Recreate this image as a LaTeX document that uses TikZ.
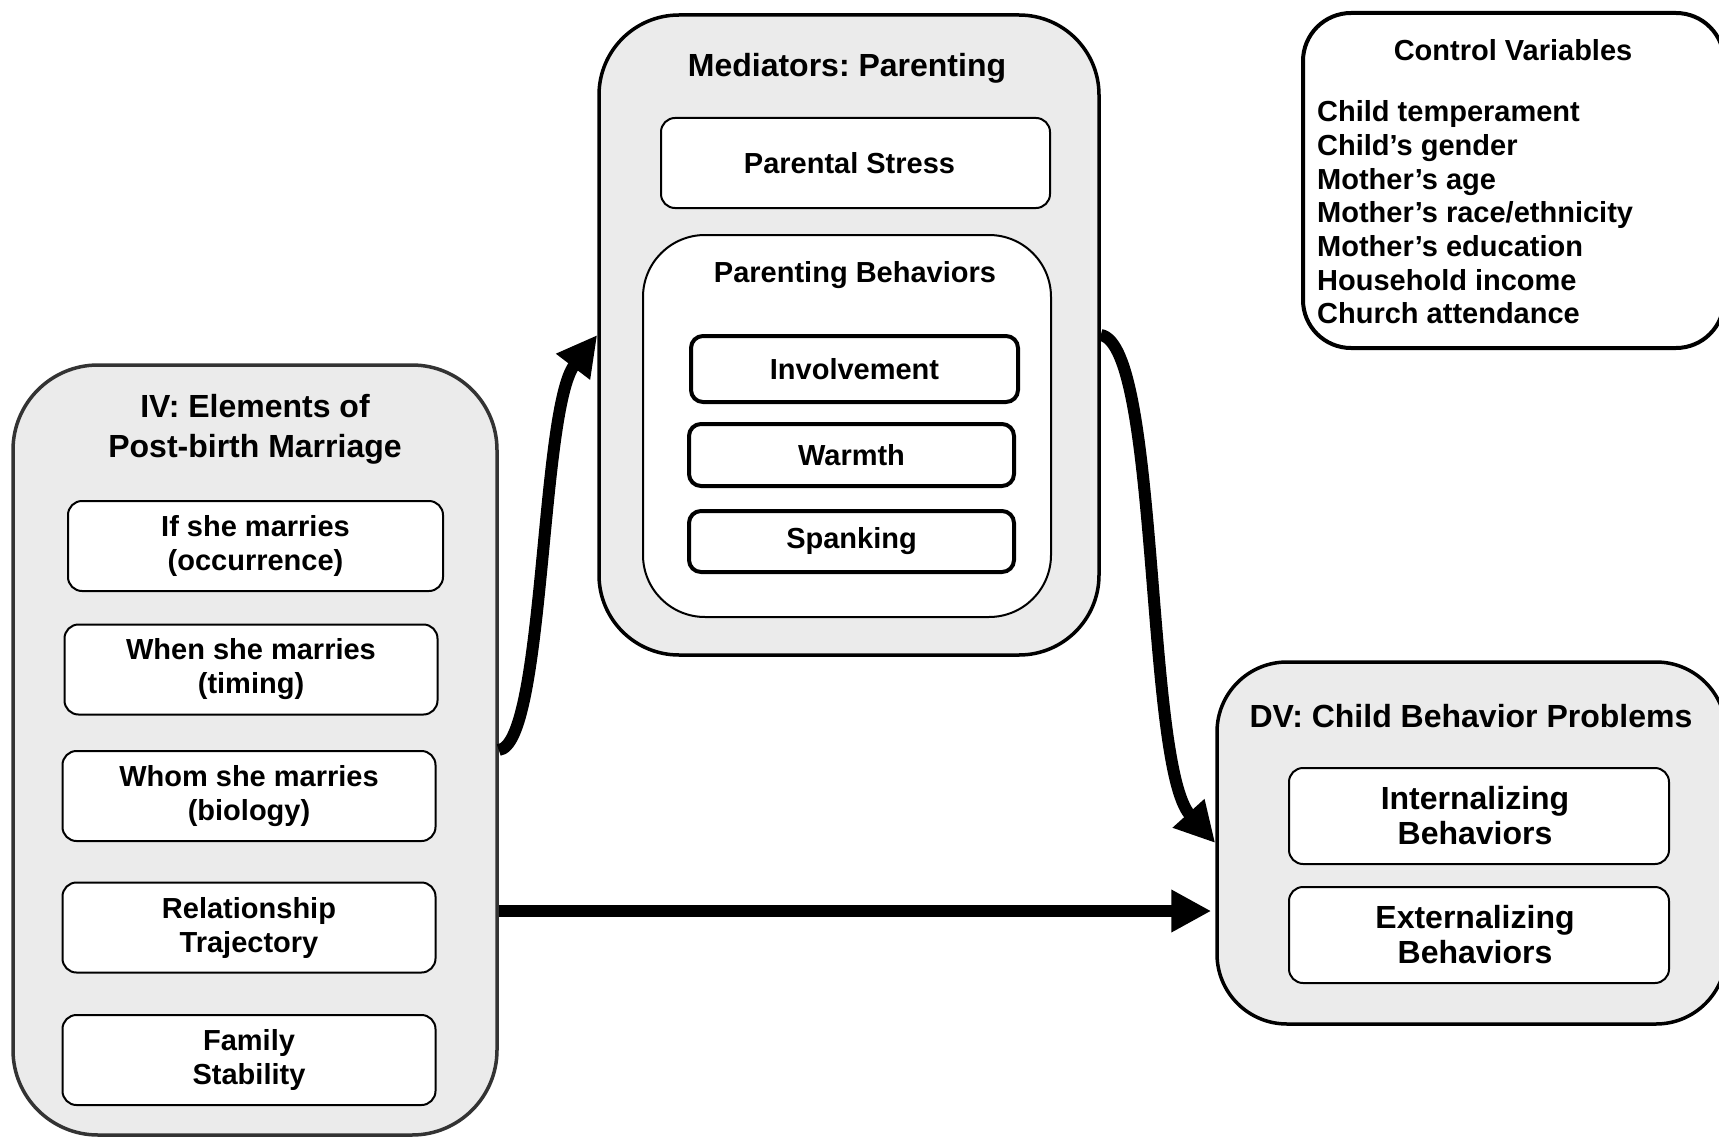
\documentclass[tikz,border=0pt]{standalone}
\usepackage{fontspec}
\setmainfont{Liberation Sans}
\usetikzlibrary{arrows.meta}

\definecolor{panelgray}{HTML}{EBEBEB}
\definecolor{ivborder}{HTML}{333333}

\newcommand\figtitlefont{\fontsize{32}{40}\selectfont\bfseries}
\newcommand\figitemfont{\fontsize{29}{34}\selectfont\bfseries}
\newcommand\figdvfont{\fontsize{32}{35}\selectfont\bfseries}

\tikzset{
  outerbox/.style={draw=black, line width=3.5pt, fill=panelgray, inner sep=0pt},
  itembox/.style={draw=black, line width=2pt, fill=white, rounded corners=14pt,
                  align=center, inner sep=0pt, font=\figitemfont},
  thickitem/.style={itembox, line width=4pt, rounded corners=12pt},
  titletext/.style={font=\figtitlefont, align=center, inner sep=0pt},
  subtitle/.style={font=\figitemfont, inner sep=0pt},
  flow/.style={line width=12pt, -{Triangle[length=40pt,width=40pt]}},
}

\begin{document}
\frenchspacing
\begin{tikzpicture}[x=1pt, y=-1pt]
\useasboundingbox (0,0) rectangle (1719,1137);
\fill[white] (0,0) rectangle (1719,1137);
\clip (0,0) rectangle (1719,1137);

% Independent variable panel
\node[outerbox, draw=ivborder, rounded corners=85pt,
      minimum width=484pt, minimum height=770pt] (iv) at (255,750) {};
\node[titletext, anchor=north] (ivtitle) at (255,394) {IV: Elements of\\Post-birth Marriage};
\node[itembox, minimum width=375pt, minimum height=90pt] (occ)  at (255.5,546) {If she marries\\(occurrence)};
\node[itembox, minimum width=373pt, minimum height=90pt] (tim)  at (251,669.5) {When she marries\\(timing)};
\node[itembox, minimum width=373pt, minimum height=90pt] (bio)  at (249,796) {Whom she marries\\(biology)};
\node[itembox, minimum width=373pt, minimum height=90pt] (traj) at (249,927.5) {Relationship\\Trajectory};
\node[itembox, minimum width=373pt, minimum height=90pt] (stab) at (249,1060) {Family\\Stability};

% Mediator panel
\node[outerbox, rounded corners=80pt,
      minimum width=500pt, minimum height=640pt] (med) at (849,335) {};
\node[titletext, anchor=base] (medtitle) at (847,77) {Mediators: Parenting};
\node[itembox, minimum width=389pt, minimum height=90pt] (stress) at (855.5,163) {Parental Stress\hspace*{12pt}};
\node[draw=black, line width=2pt, fill=white, rounded corners=62pt, inner sep=0pt,
      minimum width=408pt, minimum height=382pt] (pb) at (847,426) {};
\node[subtitle, anchor=base] (pbtitle) at (855,282) {Parenting Behaviors};
\node[thickitem, minimum width=327pt, minimum height=66pt] (inv)   at (854.5,369) {Involvement};
\node[thickitem, minimum width=325pt, minimum height=62pt] (warm)  at (851.5,455) {Warmth};
\node[thickitem, minimum width=325pt, minimum height=61pt] (spank) at (851.5,541.5) {Spanking};

% Control variables
\node[draw=black, line width=4pt, fill=white, rounded corners=48pt, inner sep=0pt,
      minimum width=421pt, minimum height=335pt] (ctrl) at (1513.5,180.5) {};
\node[subtitle, anchor=base] (ctrltitle) at (1513,61) {Control Variables};
\foreach \t [count=\i] in {Child temperament, Child’s gender, Mother’s age,
    Mother’s race/ethnicity, Mother’s education, Household income, Church attendance}
  \node[subtitle, anchor=base west] (ctl\i) at (1317,{122+(\i-1)*33.6}) {\t};

% Dependent variable panel
\node[outerbox, rounded corners=70pt,
      minimum width=509pt, minimum height=362pt] (dv) at (1471.5,843) {};
\node[titletext, anchor=base] (dvtitle) at (1471,727) {DV: Child Behavior Problems};
\node[itembox, font=\figdvfont, minimum width=380pt, minimum height=96pt] (int) at (1479,816) {Internalizing\hspace*{8pt}\\Behaviors\hspace*{8pt}};
\node[itembox, font=\figdvfont, minimum width=380pt, minimum height=96pt] (ext) at (1479,935) {Externalizing\hspace*{8pt}\\Behaviors\hspace*{8pt}};

% Paths
\coordinate (direct) at (0,911);
\draw[flow] (iv.east) .. controls (545,745) and (540,410) .. (med.west);
\draw[flow] (med.east) .. controls (1160,345) and (1145,765) .. (dv.west);
\draw[flow, shorten >=4pt] (iv.east |- direct) -- (dv.west |- direct);
\end{tikzpicture}
\end{document}
